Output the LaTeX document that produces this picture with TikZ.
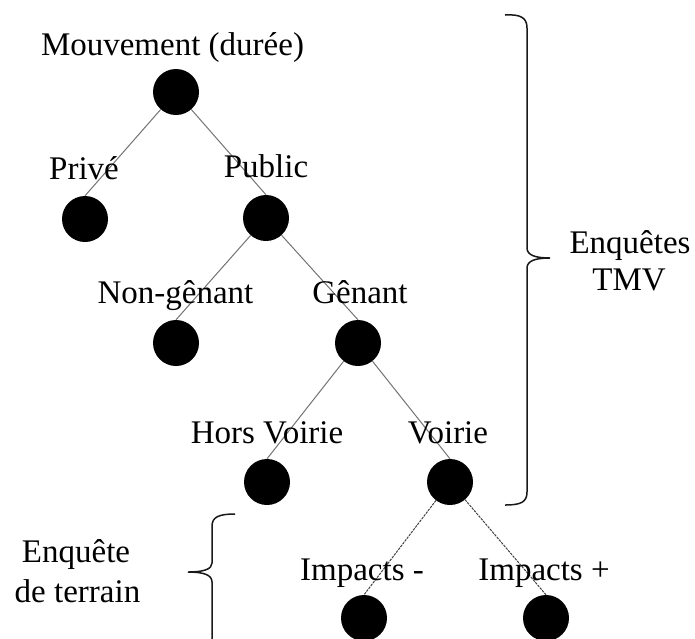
\documentclass[tikz,border=0pt]{standalone}
\usepackage{fontspec}
\setmainfont{Liberation Serif}
\begin{document}
\begin{tikzpicture}[x=1pt,y=-1pt,
  dot/.style={circle,fill=black,draw=none,minimum size=46pt,inner sep=0pt},
  lab/.style={anchor=base,inner sep=0pt,font=\fontsize{33}{40}\selectfont},
  edge/.style={draw=black!55,line width=1pt},
  dedge/.style={draw=black!75,line width=1pt,dash pattern=on 2.5pt off 1pt},
  brace/.style={draw=black!90,line width=1.5pt}]
\clip (0,0) rectangle (695,638);
\useasboundingbox (0,0) rectangle (695,638);
% dots
\node[dot] (root) at (176,92) {};
\node[dot] (prive) at (85,219) {};
\node[dot] (public) at (266,218) {};
\node[dot] (nong) at (176,343) {};
\node[dot] (genant) at (358,343) {};
\node[dot] (hors) at (267,482) {};
\node[dot] (voirie) at (450,482) {};
\node[dot] (impm) at (364,618) {};
\node[dot] (impp) at (546,618) {};
% edges
\draw[edge] (root) -- (prive.north);
\draw[edge] (root) -- (public.north);
\draw[edge] (public) -- (nong.north);
\draw[edge] (public) -- (genant.north);
\draw[edge] (genant) -- (hors.north);
\draw[edge] (genant) -- (voirie.north);
\draw[dedge] (voirie) -- (impm.north);
\draw[dedge] (voirie) -- (impp.north);
% labels
\node[lab] (lroot) at (172.5,55) {Mouvement (durée)};
\node[lab] (lprive) at (84,179) {Privé};
\node[lab] (lpublic) at (266,177) {Public};
\node[lab] (lnong) at (175.5,303) {Non-gênant};
\node[lab] (lgenant) at (360,303) {Gênant};
\node[lab] (lhors) at (267,443) {Hors Voirie};
\node[lab] (lvoirie) at (448,443) {Voirie};
\node[lab] (limpm) at (362,580) {Impacts -};
\node[lab] (limpp) at (544,580) {Impacts +};
\node[lab] (enq1) at (630,253) {Enquêtes};
\node[lab] (enq2) at (629,290) {TMV};
\node[lab] (ter1) at (76,562) {Enquête};
\node[lab] (ter2) at (77.5,602) {de terrain};
% braces
\draw[brace] (505,15) .. controls (521,14) and (527,18) .. (527,28) -- (527,248)
  .. controls (527,255) and (535,258) .. (550,258)
  .. controls (535,258) and (527,261) .. (527,268) -- (527,492)
  .. controls (527,502) and (521,505) .. (505,505);
\draw[brace] (235,514) .. controls (219,514) and (212,517) .. (212,526) -- (212,563)
  .. controls (212,569) and (204,572) .. (188,572)
  .. controls (204,572) and (212,575) .. (212,582) -- (212,650);
\end{tikzpicture}
\end{document}
